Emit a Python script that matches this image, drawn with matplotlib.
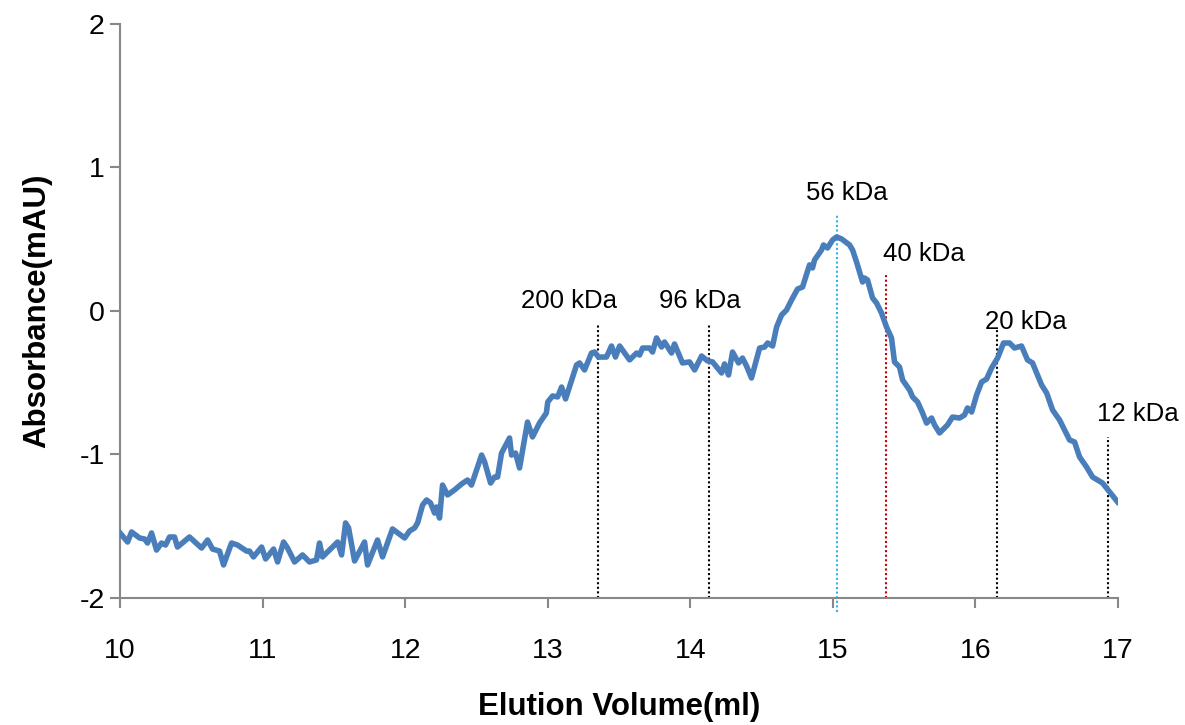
import numpy as np
import matplotlib.pyplot as plt

plt.rcParams['font.family'] = ['Liberation Sans', 'DejaVu Sans']
plt.rcParams['axes.unicode_minus'] = False

# elution trace
volume = [10.000, 10.053, 10.081, 10.137, 10.172, 10.193, 10.221, 10.256, 10.291, 10.319,
          10.347, 10.382, 10.403, 10.487, 10.572, 10.614, 10.649, 10.698, 10.726, 10.782,
          10.824, 10.887, 10.908, 10.936, 10.993, 11.021, 11.077, 11.105, 11.147, 11.175,
          11.224, 11.280, 11.329, 11.378, 11.399, 11.420, 11.526, 11.554, 11.582, 11.603,
          11.645, 11.715, 11.736, 11.806, 11.841, 11.911, 11.996, 12.031, 12.066, 12.087,
          12.122, 12.150, 12.178, 12.206, 12.220, 12.241, 12.262, 12.297, 12.346, 12.395,
          12.437, 12.465, 12.536, 12.557, 12.599, 12.627, 12.648, 12.676, 12.732, 12.746,
          12.774, 12.802, 12.858, 12.893, 12.942, 12.990, 13.000, 13.034, 13.069, 13.097,
          13.125, 13.202, 13.223, 13.258, 13.307, 13.328, 13.356, 13.412, 13.447, 13.475,
          13.504, 13.574, 13.623, 13.644, 13.665, 13.714, 13.735, 13.763, 13.798, 13.819,
          13.868, 13.889, 13.945, 13.995, 14.030, 14.079, 14.121, 14.156, 14.219, 14.240,
          14.268, 14.296, 14.338, 14.366, 14.394, 14.429, 14.486, 14.521, 14.542, 14.577,
          14.605, 14.640, 14.675, 14.710, 14.752, 14.787, 14.836, 14.857, 14.871, 14.920,
          14.934, 14.962, 14.998, 15.026, 15.061, 15.117, 15.138, 15.166, 15.187, 15.208,
          15.222, 15.243, 15.278, 15.306, 15.341, 15.376, 15.411, 15.432, 15.467, 15.489,
          15.538, 15.559, 15.594, 15.629, 15.657, 15.692, 15.713, 15.748, 15.804, 15.839,
          15.888, 15.923, 15.944, 15.973, 16.008, 16.043, 16.078, 16.113, 16.155, 16.183,
          16.197, 16.239, 16.274, 16.323, 16.365, 16.400, 16.464, 16.499, 16.541, 16.590,
          16.660, 16.695, 16.730, 16.779, 16.821, 16.891, 16.941, 16.997]
absorbance = [-1.547, -1.610, -1.540, -1.582, -1.589, -1.617, -1.547, -1.666, -1.617, -1.631,
              -1.575, -1.575, -1.645, -1.575, -1.652, -1.596, -1.659, -1.673, -1.770, -1.617,
              -1.631, -1.673, -1.673, -1.714, -1.645, -1.728, -1.659, -1.749, -1.610, -1.652,
              -1.749, -1.700, -1.749, -1.735, -1.617, -1.714, -1.610, -1.700, -1.477, -1.512,
              -1.742, -1.610, -1.770, -1.596, -1.714, -1.519, -1.582, -1.533, -1.512, -1.477,
              -1.352, -1.317, -1.338, -1.408, -1.366, -1.443, -1.213, -1.282, -1.247, -1.206,
              -1.178, -1.213, -1.004, -1.052, -1.199, -1.157, -1.157, -0.990, -0.885, -1.004,
              -0.990, -1.094, -0.774, -0.878, -0.781, -0.711, -0.634, -0.592, -0.599, -0.530,
              -0.613, -0.376, -0.362, -0.411, -0.293, -0.286, -0.321, -0.321, -0.244, -0.321,
              -0.244, -0.341, -0.293, -0.307, -0.258, -0.258, -0.286, -0.188, -0.251, -0.216,
              -0.293, -0.230, -0.362, -0.355, -0.411, -0.314, -0.348, -0.355, -0.432, -0.369,
              -0.446, -0.286, -0.362, -0.328, -0.383, -0.467, -0.258, -0.251, -0.223, -0.244,
              -0.112, -0.028, 0.007, 0.077, 0.153, 0.167, 0.321, 0.300, 0.355, 0.425,
              0.460, 0.439, 0.495, 0.516, 0.502, 0.460, 0.425, 0.341, 0.272, 0.202,
              0.230, 0.216, 0.091, 0.056, -0.014, -0.112, -0.188, -0.355, -0.390, -0.481,
              -0.551, -0.599, -0.634, -0.711, -0.781, -0.746, -0.794, -0.850, -0.794, -0.739,
              -0.746, -0.725, -0.676, -0.704, -0.585, -0.495, -0.474, -0.397, -0.328, -0.258,
              -0.223, -0.223, -0.258, -0.244, -0.341, -0.362, -0.516, -0.571, -0.690, -0.760,
              -0.899, -0.913, -1.017, -1.087, -1.157, -1.199, -1.261, -1.331]

# molecular weight standards
marker_names = ['200 kDa', '96 kDa', '56 kDa', '40 kDa', '20 kDa', '12 kDa']
marker_vol = [13.35, 14.13, 15.03, 15.37, 16.15, 16.93]
marker_top = [-0.10, -0.10, 0.67, 0.25, -0.12, -0.88]
marker_colors = ['black', 'black', '#2EB4E6', '#C00000', 'black', 'black']
label_x = [13.15, 14.07, 15.10, 15.64, 16.35, 17.14]
label_y = [0.07, 0.07, 0.82, 0.40, -0.08, -0.72]

fig = plt.figure(figsize=(11.85, 7.25), dpi=100)
ax = fig.add_axes([0.1013, 0.1752, 0.8422, 0.7917])

ax.plot(volume, absorbance, color='#4A7EBB', lw=4.0, solid_joinstyle='round', zorder=3)

for v, top, c in zip(marker_vol, marker_top, marker_colors):
    bottom = -2.1 if c == '#2EB4E6' else -2.0
    ax.plot([v, v], [bottom, top], color=c, lw=1.5, ls=(0, (1, 1.2)), clip_on=False, zorder=2)

for name, x, y in zip(marker_names, label_x, label_y):
    ax.text(x, y, name, ha='center', va='center', fontsize=18.5)

ax.set_xlim(10, 17)
ax.set_ylim(-2, 2)
ax.set_xticks(np.arange(10, 18, 1))
ax.set_yticks([-2, -1, 0, 1, 2])
ax.tick_params(direction='out', length=7, width=1.5, colors='#888888',
               labelcolor='black', labelsize=20.5)
ax.tick_params(axis='x', pad=22)
ax.tick_params(axis='y', pad=4)
for side in ['top', 'right']:
    ax.spines[side].set_visible(False)
for side in ['left', 'bottom']:
    ax.spines[side].set_color('#888888')
    ax.spines[side].set_linewidth(1.5)

ax.set_xlabel('Elution Volume(ml)', fontsize=22.5, fontweight='bold', labelpad=20)
ax.set_ylabel('Absorbance(mAU)', fontsize=22.5, fontweight='bold', labelpad=20)

fig.savefig('out.png', dpi=100)
